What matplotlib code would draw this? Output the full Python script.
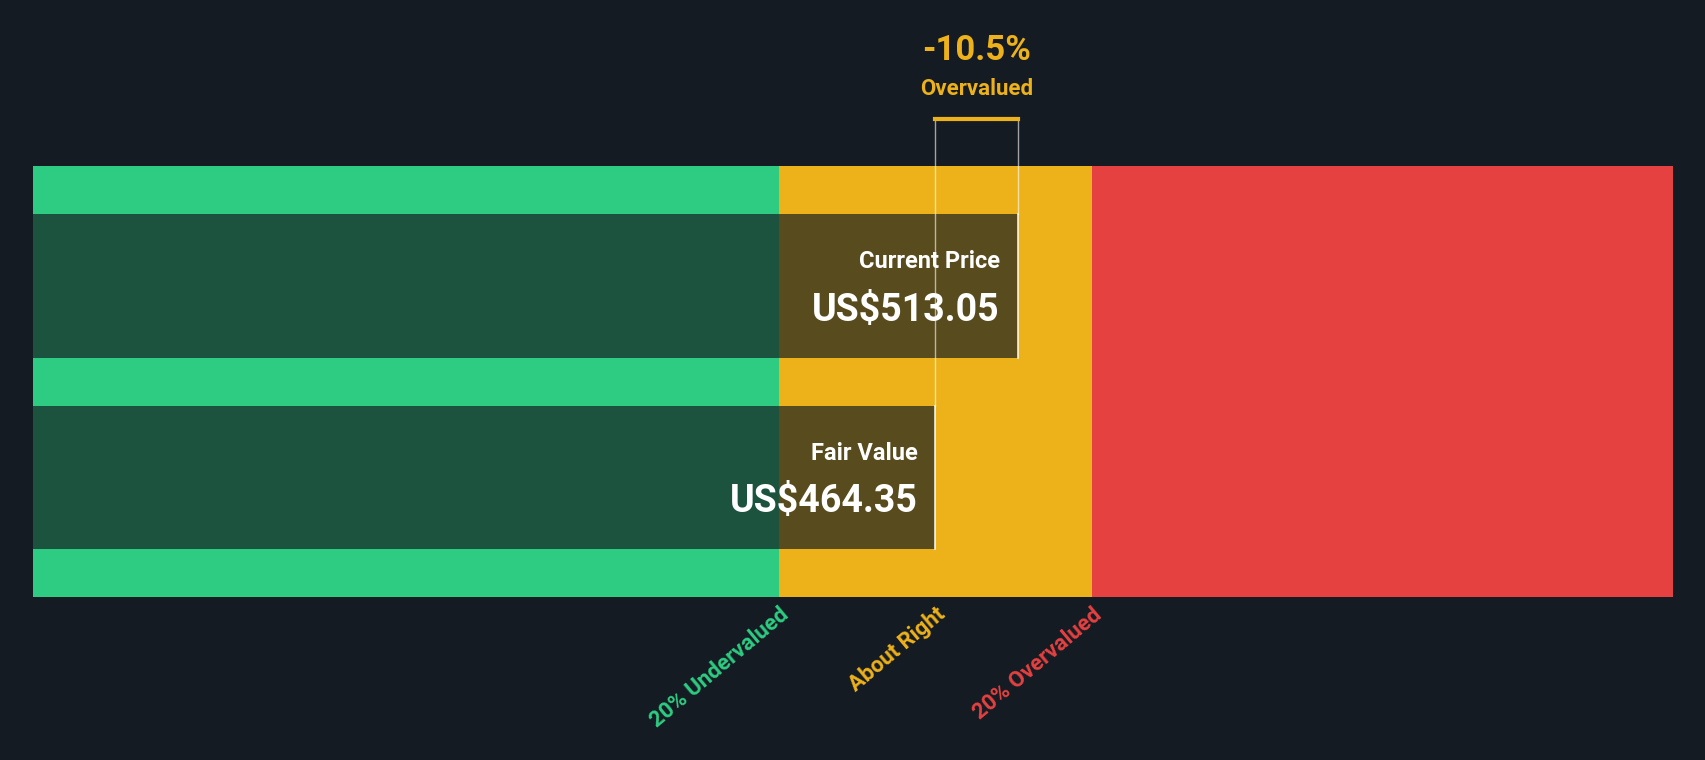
import matplotlib
matplotlib.use("Agg")
import matplotlib.pyplot as plt
from matplotlib.transforms import offset_copy

plt.rcParams['font.family'] = ['Roboto', 'DejaVu Sans']

fair_value = 464.35
current_price = 513.05
diff_label = "-10.5%"
diff_text = "Overvalued"
zone_labels = ["20% Undervalued", "About Right", "20% Overvalued"]
bar_names = ["Current Price", "Fair Value"]
bar_values = [current_price, fair_value]

BG = '#151b23'
GREEN = '#2ecc82'
YELLOW = '#edb21a'
RED = '#e54141'

xmin, xmax = -70.5, 901.5
fig = plt.figure(figsize=(17.06, 7.6), dpi=100, facecolor=BG)
ax = fig.add_axes([30/1568, 1-549/699, 1508/1568, 396/699])
ax.set_facecolor(BG)
ax.set_xlim(xmin, xmax)
ax.set_ylim(0, 1)
ax.axis('off')

lo, hi = 0.8*fair_value, 1.2*fair_value
ax.axvspan(xmin, lo, color=GREEN, lw=0)
ax.axvspan(lo, hi, color=YELLOW, lw=0)
ax.axvspan(hi, xmax, color=RED, lw=0)

ys = [(0.556, 0.889), (0.111, 0.444)]
for (y0, y1), v in zip(ys, bar_values):
    ax.fill_between([xmin, v], y0, y1, color='#121a1f', alpha=0.68, lw=0)
    ax.plot([v, v], [y0, y1], color='white', lw=1.2, alpha=0.9)

for (y0, y1), name, v in zip(ys, bar_names, bar_values):
    t = offset_copy(ax.transData, fig=fig, x=-18, y=0, units='dots')
    ax.text(v, y0+(y1-y0)*0.67, name, transform=t, ha='right', va='center',
            color='white', fontsize=17, fontweight='bold')
    ax.text(v, y0+(y1-y0)*0.33, f"US${v:.2f}", transform=t, ha='right', va='center',
            color='white', fontsize=27, fontweight='bold')

# bracket
ax.plot([fair_value, fair_value], [0.444, 1.109], color='white', lw=1, alpha=0.6, clip_on=False)
ax.plot([current_price, current_price], [0.889, 1.109], color='white', lw=1, alpha=0.6, clip_on=False)
ax.plot([fair_value, current_price], [1.109, 1.109], color=YELLOW, lw=3, clip_on=False)
mid = (fair_value + current_price) / 2
ax.text(mid, 1.27, diff_label, ha='center', va='center', color=YELLOW,
        fontsize=25, fontweight='bold', clip_on=False)
ax.text(mid, 1.18, diff_text, ha='center', va='center', color=YELLOW,
        fontsize=16, fontweight='bold', clip_on=False)

for xv, lab, c in zip([lo, fair_value, hi], zone_labels, [GREEN, YELLOW, RED]):
    ax.text(xv, -0.015, lab, ha='right', va='top', rotation=40, rotation_mode='anchor',
            color=c, fontsize=16, fontweight='bold', clip_on=False)

fig.savefig('out.png', dpi=100, facecolor=BG)
